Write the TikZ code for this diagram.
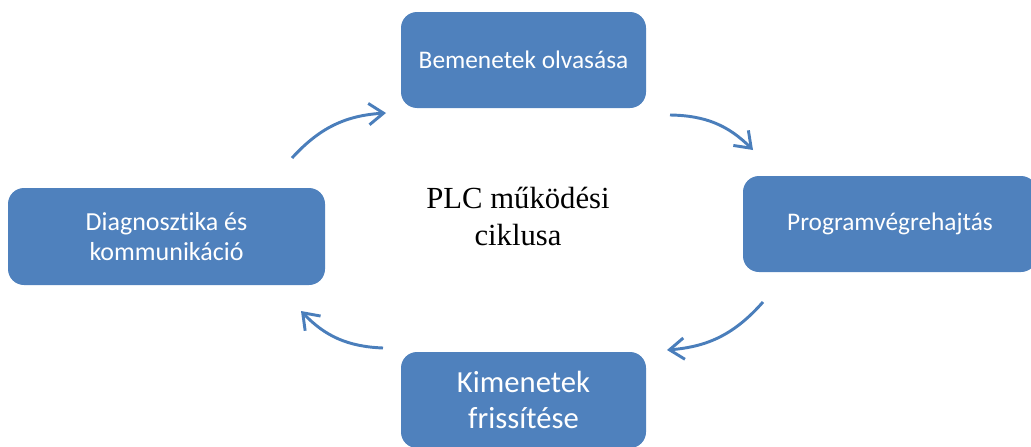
\documentclass[tikz,border=0pt]{standalone}
\usepackage{fontspec}
\setmainfont{Liberation Serif}
\newfontfamily\calibri[Ligatures=NoCommon]{Carlito}
\usetikzlibrary{arrows.meta}
\definecolor{dobozkek}{HTML}{4F81BD}
\definecolor{nyilkek}{HTML}{4A7EBB}

\begin{document}
\begin{tikzpicture}[x=0.75pt, y=-0.75pt,
        lepes/.style={rectangle, rounded corners=12pt, fill=dobozkek, text=white,
            align=center, minimum width=183.75pt, minimum height=72pt, inner sep=2pt,
            font=\calibri\fontsize{19}{22.5}\selectfont},
        nyil/.style={nyilkek, line width=2.2pt, bend left=22,
            -{Straight Barb[length=11pt,width=16pt]}}]
                \clip (0,0) rectangle (1031,446);
                \node[lepes] (bemenet) at (523.5,60) {Bemenetek olvasása};
                \node[lepes, minimum width=220.5pt] (program) at (890,224) {Programvégrehajtás};
                \node[lepes, font=\calibri\fontsize{23}{27.5}\selectfont] (kimenet) at (523.5,400) {Kimenetek\\frissítése};
                \node[lepes, minimum width=237.75pt, minimum height=72.75pt,
                    font=\calibri\fontsize{19.5}{22.5}\selectfont] (diag) at (166.5,236.5) {Diagnosztika és\\kommunikáció};
                \node[align=center, font=\fontsize{23}{27.75}\selectfont] (ciklus) at (518,216) {PLC működési\\ciklusa};
                \coordinate (d1) at (292,158);
                \coordinate (b1) at (386,113);
                \coordinate (b2) at (670,115);
                \coordinate (p1) at (753,150);
                \coordinate (p2) at (763,302);
                \coordinate (k1) at (667,350);
                \coordinate (k2) at (383,348);
                \coordinate (d2) at (301,311);
                \draw[nyil] (d1) to (b1);
                \draw[nyil] (b2) to (p1);
                \draw[nyil] (p2) to (k1);
                \draw[nyil] (k2) to (d2);
\end{tikzpicture}
\end{document}
